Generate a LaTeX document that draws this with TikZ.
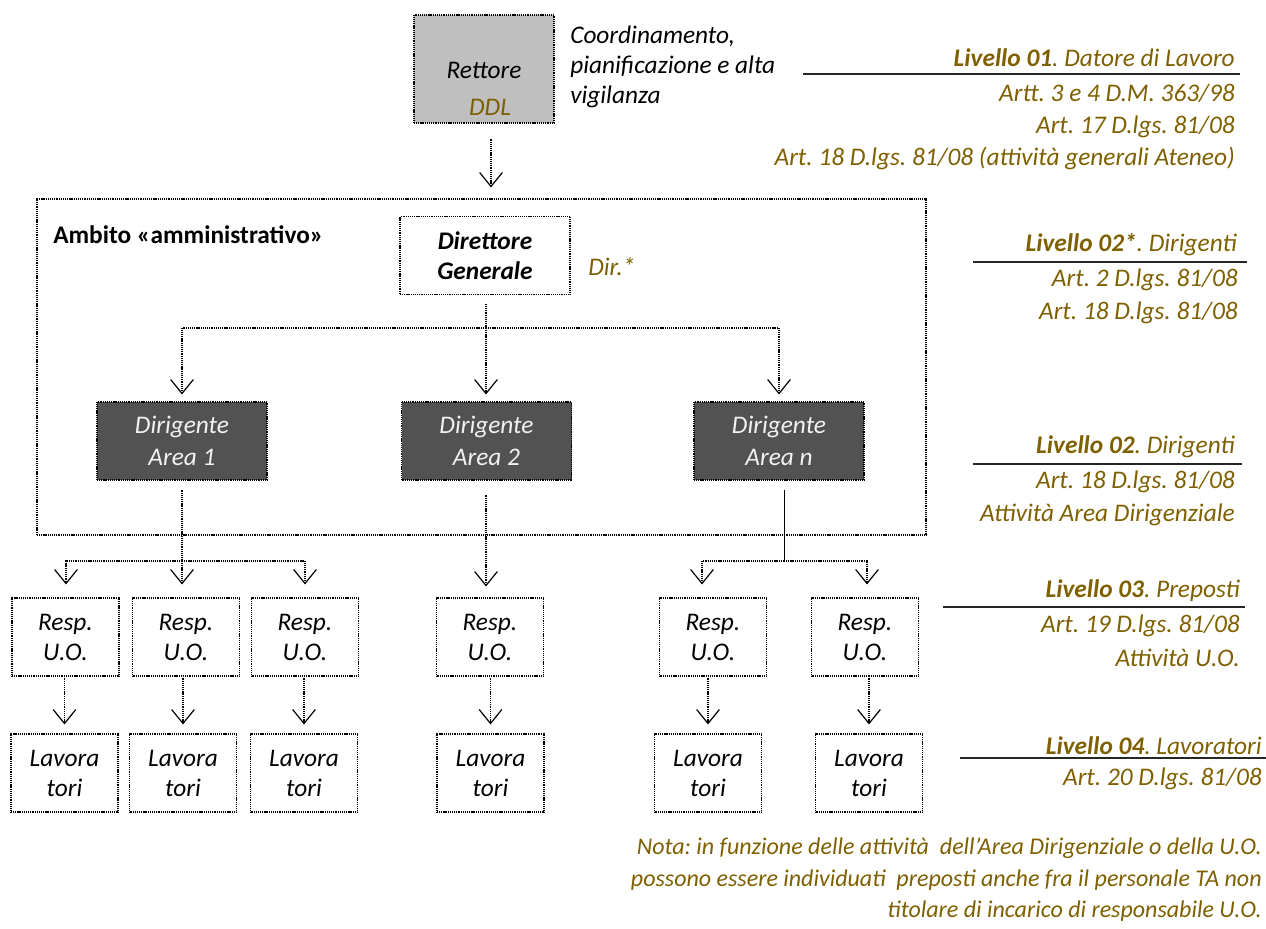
\documentclass[tikz,border=0pt]{standalone}
\usepackage{fontspec}
\setmainfont{Carlito}
\usetikzlibrary{arrows.meta}
\definecolor{oliva}{RGB}{127,96,0}
\definecolor{grigio}{RGB}{191,191,191}
\definecolor{scuro}{RGB}{82,82,82}
\newdimen\pxu \pxu=0.75pt
\newcommand{\ol}[1]{{\color{oliva}#1}}
\newcommand{\liv}[2]{\ol{\textbf{#1}. #2}}
\frenchspacing

\begin{document}
\begin{tikzpicture}[x=0.75pt,y=-0.75pt,font=\fontsize{19}{22.5}\selectfont\itshape,
	box/.style={draw,line width=0.8pt,dash pattern=on 0.8pt off 0.6pt,inner sep=0pt,minimum height=78\pxu,align=center},
	capo/.style={box,fill=grigio,minimum width=140\pxu,minimum height=108\pxu},
	dirig/.style={box,fill=scuro,text=white!95!black,minimum width=170\pxu},
	uo/.style={box,minimum width=107\pxu},
	link/.style={line width=0.8pt,dash pattern=on 0.8pt off 0.6pt},
	arr/.style={link,-{Straight Barb[length=10.5pt,width=17pt,line width=0.9pt]}},
	rif/.style={anchor=east,inner sep=0pt,text=oliva},
	riga/.style={line width=1pt,black!85}]
	\useasboundingbox (0,0) rectangle (1266,928);
	\node[box,minimum width=889\pxu,minimum height=336\pxu] (ambito) at (481.5,367) {};
	\node[anchor=west,inner sep=0pt,font=\fontsize{19}{22.5}\selectfont\bfseries\upshape] (ambitotxt) at (53,235) {Ambito «amministrativo»};

	\node[capo] (rettore) at (484,69) {};
	\node (rettoretxt) at (484,70) {Rettore};
	\node[text=oliva] (ddl) at (490,107) {DDL};
	\node[anchor=west,align=left,inner sep=0pt] (coord) at (570,67) {Coordinamento,\\pianificazione e alta\\vigilanza};

	\node[box,minimum width=170\pxu,font=\fontsize{19}{22.5}\selectfont\bfseries\itshape] (dg) at (485,255.5) {Direttore\\Generale};
	\node[anchor=west,inner sep=0pt,text=oliva] (dir) at (588,267) {Dir.*};

	\node[dirig] (area1) at (182,441) {Dirigente\\[1.5pt]Area 1};
	\node[dirig] (area2) at (486.5,441) {Dirigente\\[1.5pt]Area 2};
	\node[dirig] (arean) at (779,441) {Dirigente\\[1.5pt]Area n};

	\node[uo] (resp1) at (65.5,637) {Resp.\\U.O.};
	\node[uo] (resp2) at (186,637) {Resp.\\U.O.};
	\node[uo] (resp3) at (305,637) {Resp.\\U.O.};
	\node[uo] (resp4) at (490,637) {Resp.\\U.O.};
	\node[uo] (resp5) at (713,637) {Resp.\\U.O.};
	\node[uo] (resp6) at (865,637) {Resp.\\U.O.};

	\node[uo] (lav1) at (64.5,773) {Lavora\\tori};
	\node[uo] (lav2) at (183,773) {Lavora\\tori};
	\node[uo] (lav3) at (304,773) {Lavora\\tori};
	\node[uo] (lav4) at (490.5,773) {Lavora\\tori};
	\node[uo] (lav5) at (708,773) {Lavora\\tori};
	\node[uo] (lav6) at (869,773) {Lavora\\tori};

	\coordinate (nodo1) at (486,328);
	\coordinate (nodo2) at (182,561);
	\coordinate (nodo3) at (784,561);

	\draw[arr,shorten <=15\pxu,shorten >=11\pxu] ([xshift=7\pxu]rettore.south) -- ([xshift=7\pxu]rettore.south |- ambito.north);
	\draw[link,shorten <=9\pxu] (dg.south -| nodo1) -- (nodo1);
	\draw[arr,shorten >=7\pxu] (nodo1) -| (area1);
	\draw[arr,shorten >=7\pxu] (nodo1) -- (nodo1 |- area2.north);
	\draw[arr,shorten >=7\pxu] (nodo1) -| (arean);

	\draw[link,shorten <=9\pxu] (area1.south -| nodo2) -- (nodo2);
	\draw[arr,shorten >=13\pxu] (nodo2) -| ([xshift=0.5\pxu]resp1.north);
	\draw[arr,shorten >=13\pxu] (nodo2) -- (nodo2 |- resp2.north);
	\draw[arr,shorten >=13\pxu] (nodo2) -| (resp3.north);
	\draw[arr,shorten <=14\pxu,shorten >=11\pxu] (area2.south -| nodo1) -- (nodo1 |- resp4.north);
	\draw[thin,shorten <=9\pxu] (arean.south -| nodo3) -- (nodo3);
	\draw[arr,shorten >=13\pxu] (nodo3) -| ([xshift=-11\pxu]resp5.north);
	\draw[arr,shorten >=13\pxu] (nodo3) -| ([xshift=2\pxu]resp6.north);

	\foreach \i in {1,...,6}
		\draw[arr,shorten <=1\pxu,shorten >=9\pxu] (resp\i.south -| lav\i) -- (lav\i);

	\node[rif] (l1) at (1235,58) {\liv{Livello 01}{Datore di Lavoro}};
	\draw[riga] (803,74) -- (1240,74);
	\node[rif] (l1a) at (1235,93) {Artt. 3 e 4 D.M. 363/98};
	\node[rif] (l1b) at (1235,127) {Art. 17 D.lgs. 81/08};
	\node[rif] (l1c) at (1235,158) {Art. 18 D.lgs. 81/08 (attività generali Ateneo)};

	\node[rif] (l2s) at (1237,245) {\liv{Livello 02*}{Dirigenti}};
	\draw[riga] (973,262) -- (1247,262);
	\node[rif] (l2sa) at (1238,280) {Art. 2 D.lgs. 81/08};
	\node[rif] (l2sb) at (1238,313) {Art. 18 D.lgs. 81/08};

	\node[rif] (l2) at (1235,447) {\liv{Livello 02}{Dirigenti}};
	\draw[riga] (973,464) -- (1242,464);
	\node[rif] (l2a) at (1235,482) {Art. 18 D.lgs. 81/08};
	\node[rif] (l2b) at (1235,515) {Attività Area Dirigenziale};

	\node[rif] (l3) at (1240,591) {\liv{Livello 03}{Preposti}};
	\draw[riga] (943,607) -- (1245,607);
	\node[rif] (l3a) at (1240,626) {Art. 19 D.lgs. 81/08};
	\node[rif] (l3b) at (1240,658) {Attività U.O.};

	\node[rif] (l4) at (1262,746) {\liv{Livello 04}{Lavoratori}};
	\draw[riga] (960,758) -- (1266,758);
	\node[rif] (l4a) at (1262,779) {Art. 20 D.lgs. 81/08};

	\node[anchor=north east,align=right,inner sep=0pt,text=oliva,font=\fontsize{18}{23.5}\selectfont\itshape] (nota) at (1262,838) {Nota: in funzione delle attività \ dell’Area Dirigenziale o della U.O.\\possono essere individuati \ preposti anche fra il personale TA non\\titolare di incarico di responsabile U.O.};
\end{tikzpicture}
\end{document}
